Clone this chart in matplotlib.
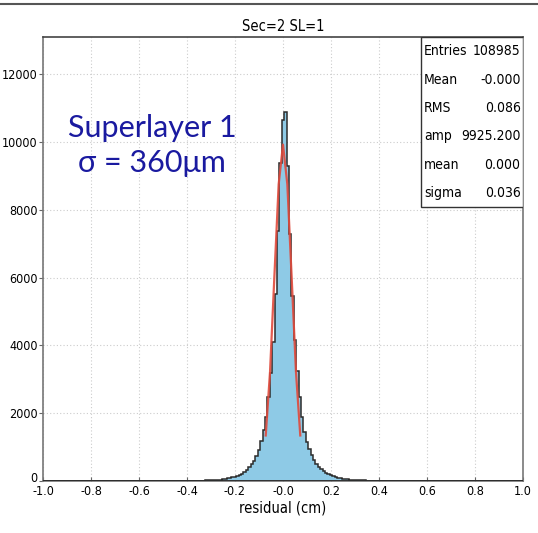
import matplotlib
matplotlib.use('Agg')
import matplotlib.pyplot as plt
import matplotlib.transforms as mtransforms
import numpy as np

plt.rcParams['font.family'] = ['DejaVu Sans']
plt.rcParams['font.stretch'] = 'condensed'

# histogram bin centres -0.39 .. 0.40, width 0.01
bin_centers = np.round(np.arange(-0.39, 0.405, 0.01), 3)
counts = [6, 7, 8, 9, 10, 12, 14, 16, 19, 22, 26, 31, 37, 44, 52, 62, 74, 88, 105, 125,
          150, 180, 220, 270, 330, 400, 490, 600, 740, 920, 1180, 1500, 1880, 2470, 3200,
          4100, 5530, 7380, 9390, 10640,
          10880, 9290, 7300, 5450, 4150, 3260, 2470, 1880, 1450, 1150, 950, 760, 620, 500,
          420, 350, 290, 240, 200, 165, 135, 112, 92, 78, 66, 55, 46, 39, 33, 28, 24, 20,
          17, 15, 13, 11, 9, 8, 7, 6]

# fit results (stats box)
stat_names = ['Entries', 'Mean', 'RMS', 'amp', 'mean', 'sigma']
stat_values = ['108985', '-0.000', '0.086', '9925.200', '0.000', '0.036']
amp, mu, sigma = 9925.2, 0.0, 0.036

xticks = [-1.0, -0.8, -0.6, -0.4, -0.2, 0.0, 0.2, 0.4, 0.6, 0.8, 1.0]
xticklabels = ['-1.0', '-0.8', '-0.6', '-0.4', '-0.2', '-0.0', '0.2', '0.4', '0.6', '0.8', '1.0']
yticks = [0, 2000, 4000, 6000, 8000, 10000, 12000]

# full range -1..1, empty bins outside the filled region
width = 0.01
all_centers = np.round(np.arange(-1.0, 1.0001, width), 3)
all_counts = np.zeros(len(all_centers))
for c, n in zip(bin_centers, counts):
    all_counts[np.argmin(np.abs(all_centers - c))] = n
edges = np.append(all_centers - width / 2, all_centers[-1] + width / 2)

fig = plt.figure(figsize=(5.38, 5.33), dpi=100)
ax = fig.add_axes([43 / 538, 52 / 533, 480 / 538, 444 / 533])

ax.stairs(all_counts, edges, fill=True, color='#8ecae6', zorder=2)
ax.stairs(all_counts, edges, color='#2b2b2b', linewidth=1.1, zorder=3)
ax.plot([-1, 1], [0, 0], color='#2b2b2b', linewidth=2, zorder=3)

xf = np.linspace(mu - 2 * sigma, mu + 2 * sigma, 9)
ax.plot(xf, amp * np.exp(-0.5 * ((xf - mu) / sigma) ** 2), color='#e04a3c',
        linewidth=1.6, alpha=0.9, zorder=4)

ax.set_xlim(-1, 1)
ax.set_ylim(0, 13100)
ax.set_xticks(xticks)
ax.set_xticklabels(xticklabels)
ax.set_yticks(yticks)
ax.tick_params(labelsize=9, length=3, width=0.8, color='#666666', pad=1)
ax.tick_params(axis='x', direction='in', pad=3)
ax.grid(True, color='#cccccc', linestyle=(0, (1, 2)), linewidth=0.8, zorder=0)
ax.set_axisbelow(True)
for s in ax.spines.values():
    s.set_color('#777777')
    s.set_linewidth(1.2)
ax.spines['top'].set_color('#444444')
ax.set_title('Sec=2 SL=1', fontsize=10.5, pad=4)
ax.set_xlabel('residual (cm)', fontsize=10.5, labelpad=2)

# lift the "0" label a little, like the original
lbl0 = ax.get_yticklabels()[0]
lbl0.set_transform(lbl0.get_transform() + mtransforms.ScaledTranslation(0, 3 / 72, fig.dpi_scale_trans))

# stats box
x0, y0 = 0.7875, 0.617
ax.add_patch(plt.Rectangle((x0, y0), 1 - x0, 1 - y0, transform=ax.transAxes,
                           facecolor='white', edgecolor='#333333', linewidth=1, zorder=5))
row_h = (1 - y0) / len(stat_names)
for i, (nm, val) in enumerate(zip(stat_names, stat_values)):
    yy = 1 - (i + 0.5) * row_h
    ax.text(x0 + 0.006, yy, nm, transform=ax.transAxes, ha='left', va='center',
            fontsize=10, zorder=6)
    ax.text(0.995, yy, val, transform=ax.transAxes, ha='right', va='center',
            fontsize=10, zorder=6)

ax.text(0.227, 0.794, 'Superlayer 1', transform=ax.transAxes, ha='center', va='center',
        fontsize=22, color='#1a1aa0', family=['Lato', 'DejaVu Sans'], stretch='normal')
ax.text(0.227, 0.717, 'σ = 360μm', transform=ax.transAxes, ha='center', va='center',
        fontsize=22, color='#1a1aa0', family=['Lato', 'DejaVu Sans'], stretch='normal')

fig.add_artist(plt.Line2D([0, 1], [1 - 3.5 / 533, 1 - 3.5 / 533], color='#555555', linewidth=1.5))

fig.savefig('out.png', dpi=100)
